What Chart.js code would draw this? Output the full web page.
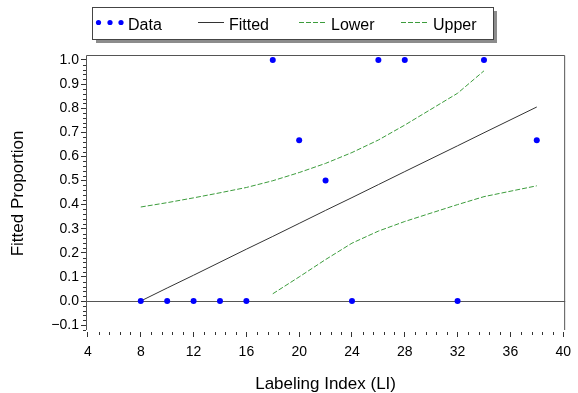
<!DOCTYPE html>
<html><head><meta charset="utf-8">
<script src="https://cdn.jsdelivr.net/npm/chart.js@4/dist/chart.umd.min.js"></script>
<style>html,body{margin:0;padding:0;background:#fff}#wrap{position:relative;width:578px;height:393px}</style>
</head><body><div id="wrap"><canvas id="c" width="578" height="393"></canvas></div>
<script>
const seriesNames = ['Data', 'Fitted', 'Lower', 'Upper'];
const dataX  = [8, 10, 12, 14, 16, 18, 20, 22, 24, 26, 28, 32, 34, 38];
const dataY  = [0, 0, 0, 0, 0, 1, 0.667, 0.5, 0, 1, 1, 0, 1, 0.667];
const fitX   = [8, 10, 12, 14, 16, 18, 20, 22, 24, 26, 28, 32, 34, 38];
const fitY   = [0, 0.054, 0.107, 0.161, 0.215, 0.268, 0.322, 0.376, 0.429, 0.483, 0.537, 0.644, 0.698, 0.805];
const lowerX = [18, 20, 22, 24, 26, 28, 32, 34, 38];
const lowerY = [0.030, 0.100, 0.172, 0.240, 0.290, 0.330, 0.400, 0.433, 0.478];
const upperX = [8, 10, 12, 14, 16, 18, 20, 22, 24, 26, 28, 32, 34];
const upperY = [0.390, 0.408, 0.428, 0.449, 0.471, 0.499, 0.533, 0.571, 0.616, 0.668, 0.730, 0.862, 0.955];
const xTicks = [4, 8, 12, 16, 20, 24, 28, 32, 36, 40];
const yTicks = [-0.1, 0, 0.1, 0.2, 0.3, 0.4, 0.5, 0.6, 0.7, 0.8, 0.9, 1.0];
const yTickLabels = ['\u22120.1', '0.0', '0.1', '0.2', '0.3', '0.4', '0.5', '0.6', '0.7', '0.8', '0.9', '1.0'];
const xTitle = 'Labeling Index (LI)';
const yTitle = 'Fitted Proportion';

const FONT = "'Liberation Sans', Arial, Helvetica, sans-serif";
const GREEN = '#3c9c3c';
const pts = (xs, ys) => xs.map((x, i) => ({x: x, y: ys[i]}));

const framePlugin = {
  id: 'frameAndMinor',
  afterDraw(chart) {
    const ctx = chart.ctx, a = chart.chartArea;
    const xs = chart.scales.x, ys = chart.scales.y;
    ctx.save();
    // frame: left, top, right
    ctx.strokeStyle = '#555'; ctx.lineWidth = 1;
    ctx.beginPath();
    ctx.moveTo(a.left + 0.5, a.bottom - 2);
    ctx.lineTo(a.left + 0.5, a.top + 0.5);
    ctx.lineTo(a.right - 0.5, a.top + 0.5);
    ctx.lineTo(a.right - 0.5, a.bottom - 2);
    ctx.stroke();
    // minor ticks
    ctx.strokeStyle = '#333';
    ctx.beginPath();
    for (let i = 0; i < xTicks.length - 1; i++) {
      const step = (xTicks[i + 1] - xTicks[i]) / 5;
      for (let k = 1; k < 5; k++) {
        const px = Math.round(xs.getPixelForValue(xTicks[i] + k * step)) + 0.5;
        ctx.moveTo(px, a.bottom); ctx.lineTo(px, a.bottom + 3);
      }
    }
    const ystep = (yTicks[1] - yTicks[0]) / 5;
    for (let v = yTicks[0] - ystep; v < yTicks[yTicks.length - 1]; v += ystep) {
      const isMajor = yTicks.some(t => Math.abs(t - v) < 1e-6);
      if (isMajor || v < ys.min || v > ys.max) continue;
      const py = Math.round(ys.getPixelForValue(v)) + 0.5;
      ctx.moveTo(a.left, py); ctx.lineTo(a.left - 3, py);
    }
    ctx.stroke();

    // legend
    const bx = 92, by = 7, bw = 401, bh = 32;
    ctx.fillStyle = '#8c8c8c';
    ctx.fillRect(bx + 4, by + bh, bw, 4);
    ctx.fillRect(bx + bw, by + 4, 4, bh);
    ctx.fillStyle = '#fff';
    ctx.fillRect(bx, by, bw, bh);
    ctx.strokeStyle = '#444';
    ctx.strokeRect(bx + 0.5, by + 0.5, bw, bh);
    const cy = 22.5;
    ctx.fillStyle = '#0000ff';
    [98.5, 110, 121].forEach(x => { ctx.beginPath(); ctx.arc(x, cy, 2.6, 0, Math.PI * 2); ctx.fill(); });
    ctx.lineWidth = 1;
    ctx.strokeStyle = '#333'; ctx.setLineDash([]);
    ctx.beginPath(); ctx.moveTo(198, cy); ctx.lineTo(224, cy); ctx.stroke();
    ctx.strokeStyle = GREEN; ctx.setLineDash([5, 2]);
    ctx.beginPath(); ctx.moveTo(299, cy); ctx.lineTo(325, cy); ctx.stroke();
    ctx.beginPath(); ctx.moveTo(401, cy); ctx.lineTo(427, cy); ctx.stroke();
    ctx.setLineDash([]);
    ctx.fillStyle = '#000';
    ctx.font = '16px ' + FONT;
    ctx.textBaseline = 'alphabetic';
    ctx.textAlign = 'left';
    const tx = [128, 229, 331, 433];
    seriesNames.forEach((n, i) => ctx.fillText(n, tx[i], 29.5));
    ctx.restore();
  }
};

new Chart(document.getElementById('c'), {
  type: 'scatter',
  data: {
    datasets: [
      {label: seriesNames[0], data: pts(dataX, dataY), showLine: false,
       pointRadius: 3, pointBorderWidth: 0, backgroundColor: '#0000ff', borderColor: '#0000ff'},
      {label: seriesNames[1], data: pts(fitX, fitY), showLine: true, pointRadius: 0,
       borderColor: '#333', borderWidth: 1, tension: 0},
      {label: seriesNames[2], data: pts(lowerX, lowerY), showLine: true, pointRadius: 0,
       borderColor: GREEN, borderWidth: 1, borderDash: [5, 2], tension: 0},
      {label: seriesNames[3], data: pts(upperX, upperY), showLine: true, pointRadius: 0,
       borderColor: GREEN, borderWidth: 1, borderDash: [5, 2], tension: 0}
    ]
  },
  options: {
    responsive: false,
    animation: false,
    devicePixelRatio: 1,
    layout: {padding: {left: 0, right: 8, top: 55, bottom: 0}},
    plugins: {legend: {display: false}, tooltip: {enabled: false}},
    scales: {
      x: {
        type: 'linear', min: 3.85, max: 40.15,
        afterBuildTicks: s => { s.ticks = xTicks.map(v => ({value: v})); },
        afterFit: s => { s.height = 61; },
        border: {display: false},
        grid: {drawOnChartArea: false, tickLength: 5, tickColor: '#333'},
        ticks: {padding: 7, color: '#000', font: {family: FONT, size: 14},
                maxRotation: 0, autoSkip: false, callback: v => String(v)},
        title: {display: true, text: xTitle, color: '#000',
                font: {family: FONT, size: 17, lineHeight: 1}, padding: {top: 0, bottom: 0}}
      },
      y: {
        type: 'linear', min: -0.1286, max: 1.0207,
        afterBuildTicks: s => { s.ticks = yTicks.map(v => ({value: v})); },
        afterFit: s => { s.width = 86; },
        border: {display: false},
        grid: {
          drawOnChartArea: true, tickLength: 5, tickColor: '#333',
          color: c => (c.tick && Math.abs(c.tick.value) < 1e-9) ? '#555' : 'rgba(0,0,0,0)',
          lineWidth: 1
        },
        ticks: {padding: 2, color: '#000', font: {family: FONT, size: 14}, autoSkip: false,
                callback: (v, i) => yTickLabels[i]},
        title: {display: true, text: yTitle, color: '#000',
                font: {family: FONT, size: 17, lineHeight: 1}, padding: {top: 10, bottom: 0}}
      }
    }
  },
  plugins: [framePlugin]
});
</script></body></html>
